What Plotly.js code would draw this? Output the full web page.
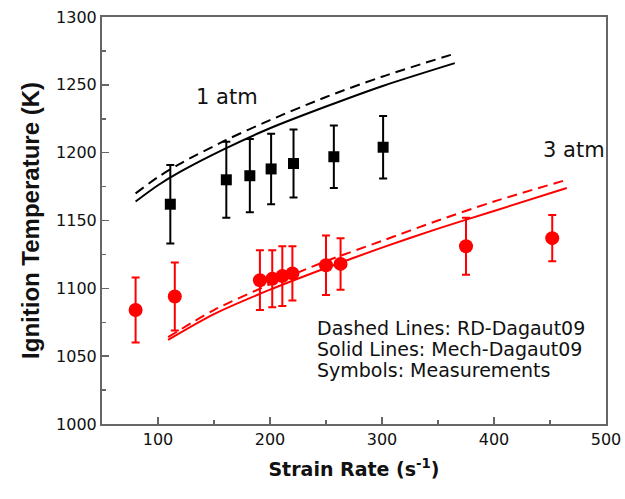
<!DOCTYPE html>
<html>
<head>
<meta charset="utf-8">
<script src="https://cdn.plot.ly/plotly-3.0.1.min.js"></script>
<style>html,body{margin:0;padding:0;background:#fff;}#chart{width:625px;height:499px;}</style>
</head>
<body>
<div id="chart"></div>
<script>
// 1 atm measurements
const atm1X = [111, 161, 182, 201, 221, 257, 301];
const atm1Y = [1162, 1180, 1183, 1188, 1192, 1197, 1204];
const atm1Err = [29, 28, 27, 26, 25, 23, 23];
// 3 atm measurements
const atm3X = [80, 115, 191, 202, 211, 220, 250, 263, 375, 452];
const atm3Y = [1084, 1094, 1106, 1107, 1109, 1111, 1117, 1118, 1131, 1137];
const atm3Err = [24, 25, 22, 21, 22, 20, 22, 19, 21, 17];
// Model curves
const curve1X = [80, 100, 120, 160, 200, 250, 300, 365];
const solid1Y = [1164, 1176, 1186, 1203, 1218, 1234, 1249, 1266];
const dashed1Y = [1170, 1182, 1192, 1209, 1224, 1241, 1256, 1273];
const curve3X = [109, 150, 200, 250, 300, 350, 400, 465];
const solid3Y = [1062, 1081, 1099, 1115, 1130, 1144, 1157, 1174];
const dashed3Y = [1064, 1084, 1103, 1120, 1135, 1150, 1164, 1180];

const traces = [
  {x: curve1X, y: dashed1Y, mode: 'lines', line: {color: 'black', width: 2, dash: '10px,6px', shape: 'spline', smoothing: 0.8}},
  {x: curve1X, y: solid1Y, mode: 'lines', line: {color: 'black', width: 2, shape: 'spline', smoothing: 0.8}},
  {x: curve3X, y: dashed3Y, mode: 'lines', line: {color: 'red', width: 2, dash: '10px,6px', shape: 'spline', smoothing: 0.8}},
  {x: curve3X, y: solid3Y, mode: 'lines', line: {color: 'red', width: 2, shape: 'spline', smoothing: 0.8}},
  {x: atm1X, y: atm1Y, mode: 'markers', marker: {symbol: 'square', size: 11, color: 'black'},
   error_y: {type: 'data', array: atm1Err, visible: true, color: 'black', thickness: 2, width: 4}},
  {x: atm3X, y: atm3Y, mode: 'markers', marker: {symbol: 'circle', size: 14, color: 'red'},
   error_y: {type: 'data', array: atm3Err, visible: true, color: 'red', thickness: 2, width: 4}}
];

const axisCommon = {
  showline: true, linecolor: '#666', linewidth: 2, mirror: true,
  ticks: 'inside', ticklen: 7, tickwidth: 1.5, tickcolor: '#666',
  showgrid: false, zeroline: false,
  tickfont: {family: 'DejaVu Sans', size: 16, color: '#111'}
};

const layout = {
  width: 625, height: 499,
  margin: {l: 102, r: 19, t: 17, b: 75},
  paper_bgcolor: '#fff', plot_bgcolor: '#fff',
  showlegend: false,
  font: {family: 'DejaVu Sans', color: '#111'},
  xaxis: Object.assign({}, axisCommon, {
    range: [50, 500], dtick: 100, tick0: 0,
    minor: {dtick: 50, ticks: 'inside', ticklen: 4, tickcolor: '#666', tickwidth: 1.5},
    title: {text: '<b>Strain Rate (s<sup>-1</sup>)</b>', font: {family: 'DejaVu Sans', size: 19, color: '#111'}, standoff: 14}
  }),
  yaxis: Object.assign({}, axisCommon, {
    range: [1000, 1300], dtick: 50, tick0: 1000,
    minor: {dtick: 25, ticks: 'inside', ticklen: 4, tickcolor: '#666', tickwidth: 1.5},
    title: {text: '<b>Ignition Temperature (K)</b>', font: {family: 'Liberation Sans', size: 24, color: '#111'}, standoff: 10}
  }),
  annotations: [
    {x: 162, y: 1241, text: '1 atm', showarrow: false, font: {family: 'DejaVu Sans', size: 21, color: '#111'}},
    {x: 471, y: 1202, text: '3 atm', showarrow: false, font: {family: 'DejaVu Sans', size: 21, color: '#111'}},
    {x: 240, y: 1071, xanchor: 'left', text: 'Dashed Lines: RD-Dagaut09', showarrow: false, font: {family: 'DejaVu Sans', size: 19, color: '#111'}},
    {x: 240, y: 1055.5, xanchor: 'left', text: 'Solid Lines: Mech-Dagaut09', showarrow: false, font: {family: 'DejaVu Sans', size: 19, color: '#111'}},
    {x: 240, y: 1040, xanchor: 'left', text: 'Symbols: Measurements', showarrow: false, font: {family: 'DejaVu Sans', size: 19, color: '#111'}}
  ]
};

Plotly.newPlot('chart', traces, layout, {displayModeBar: false, staticPlot: true});
</script>
</body>
</html>
